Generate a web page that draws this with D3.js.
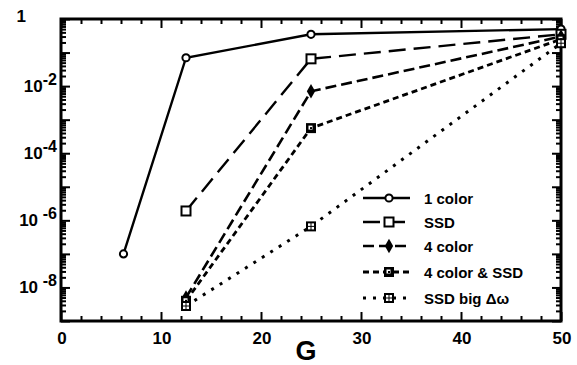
<!DOCTYPE html>
<html>
<head>
<meta charset="utf-8">
<script src="https://cdn.jsdelivr.net/npm/d3@7"></script>
<style>
  body { margin: 0; background: #fff; }
  text { font-family: "Liberation Sans", Arial, sans-serif; font-weight: bold; fill: #000; }
</style>
</head>
<body>
<div id="chart"></div>
<script>
// data
const gOneColor = [6.25, 12.5, 25, 50];
const oneColor = [1e-7, 0.07, 0.35, 0.5];
const gOthers = [12.5, 25, 50];
const ssd = [1.9e-6, 0.065, 0.35];
const fourColor = [5e-9, 7e-3, 0.3];
const fourColorSSD = [4e-9, 5.6e-4, 0.25];
const ssdBig = [2.8e-9, 6.6e-7, 0.19];

const seriesNames = ["1 color", "SSD", "4 color", "4 color & SSD", "SSD big \u0394\u03c9"];
const xMajor = [0, 10, 20, 30, 40, 50];
const yLabelExp = [0, -2, -4, -6, -8];

const width = 577, height = 365;
const margin = { top: 19, right: 16, bottom: 44, left: 61 };

const svg = d3.select("#chart").append("svg")
    .attr("width", width)
    .attr("height", height);

const x = d3.scaleLinear().domain([0, 50]).range([margin.left, width - margin.right]);
const y = d3.scaleLog().domain([1e-9, 1]).range([height - margin.bottom, margin.top]);

const series = [
  { name: seriesNames[0], g: gOneColor, v: oneColor, dash: null, w: 2.4, mark: "circle" },
  { name: seriesNames[1], g: gOthers, v: ssd, dash: "17,8", w: 2.4, mark: "square" },
  { name: seriesNames[2], g: gOthers, v: fourColor, dash: "11,5", w: 2.6, mark: "diamond" },
  { name: seriesNames[3], g: gOthers, v: fourColorSSD, dash: "6,4", w: 2.8, mark: "squareDot" },
  { name: seriesNames[4], g: gOthers, v: ssdBig, dash: "3,7", w: 3, mark: "squarePlus" }
];

// ticks
const minorX = d3.range(0, 51, 2).filter(d => d % 10 !== 0);
const decades = d3.range(-9, 1);
const minorY = [];
decades.forEach(k => { if (k < 0) d3.range(2, 10).forEach(m => minorY.push(m * Math.pow(10, k))); });
const majorY = decades.map(k => Math.pow(10, k));

function tickAxis(axis, tr) {
  const g = svg.append("g").attr("transform", tr).call(axis);
  g.select(".domain").remove();
  g.selectAll(".tick line").attr("stroke", "#000").attr("stroke-width", 2);
  return g;
}
const bottomY = height - margin.bottom, topY = margin.top;
const leftX = margin.left, rightX = width - margin.right;

tickAxis(d3.axisBottom(x).tickValues(xMajor).tickSize(-9).tickFormat(""), `translate(0,${bottomY})`);
tickAxis(d3.axisBottom(x).tickValues(minorX).tickSize(-5).tickFormat(""), `translate(0,${bottomY})`);
tickAxis(d3.axisTop(x).tickValues(xMajor).tickSize(-9).tickFormat(""), `translate(0,${topY})`);
tickAxis(d3.axisTop(x).tickValues(minorX).tickSize(-5).tickFormat(""), `translate(0,${topY})`);
tickAxis(d3.axisLeft(y).tickValues(majorY).tickSize(-9).tickFormat(""), `translate(${leftX},0)`);
tickAxis(d3.axisLeft(y).tickValues(minorY).tickSize(-5).tickFormat(""), `translate(${leftX},0)`);
tickAxis(d3.axisRight(y).tickValues(majorY).tickSize(-9).tickFormat(""), `translate(${rightX},0)`);
tickAxis(d3.axisRight(y).tickValues(minorY).tickSize(-5).tickFormat(""), `translate(${rightX},0)`);

// frame
svg.append("rect")
    .attr("x", leftX).attr("y", topY)
    .attr("width", rightX - leftX).attr("height", bottomY - topY)
    .attr("fill", "none").attr("stroke", "#000").attr("stroke-width", 3);

// x labels
svg.selectAll(".xlab").data(xMajor).enter().append("text")
    .attr("x", d => x(d) + 1).attr("y", bottomY + 23)
    .attr("text-anchor", "middle").attr("font-size", 17)
    .text(d => d);

svg.append("text")
    .attr("x", x(24.5)).attr("y", 360)
    .attr("text-anchor", "middle").attr("font-size", 27)
    .text("G");

// y labels
yLabelExp.forEach(e => {
  const t = svg.append("text")
      .attr("x", 57).attr("y", y(Math.pow(10, e)) + 6)
      .attr("text-anchor", "end").attr("font-size", 17);
  if (e === 0) {
    t.attr("x", 26).attr("y", y(1) + 3).text("1");
  } else {
    t.append("tspan").text(e <= -6 ? "10 " : "10");
    t.append("tspan").attr("dy", -7).attr("font-size", 16).text(e);
  }
});

// lines
const line = d3.line().x(d => x(d[0])).y(d => y(d[1]));
series.forEach(s => {
  svg.append("path")
      .datum(s.g.map((g, i) => [g, s.v[i]]))
      .attr("d", line)
      .attr("fill", "none")
      .attr("stroke", "#000")
      .attr("stroke-width", s.w)
      .attr("stroke-dasharray", s.dash);
});

function drawMarker(g, kind, cx, cy) {
  if (kind === "circle") {
    g.append("circle").attr("cx", cx).attr("cy", cy).attr("r", 3.6)
        .attr("fill", "#fff").attr("stroke", "#000").attr("stroke-width", 2);
  } else if (kind === "square") {
    g.append("rect").attr("x", cx - 4.5).attr("y", cy - 4.5).attr("width", 9).attr("height", 9)
        .attr("fill", "#fff").attr("stroke", "#000").attr("stroke-width", 2);
  } else if (kind === "diamond") {
    g.append("path").attr("d", d3.symbol(d3.symbolDiamond, 60)())
        .attr("transform", `translate(${cx},${cy})`).attr("fill", "#000");
  } else if (kind === "squareDot") {
    g.append("rect").attr("x", cx - 5).attr("y", cy - 5).attr("width", 10).attr("height", 10).attr("fill", "#000");
    g.append("rect").attr("x", cx - 2.5).attr("y", cy - 2.5).attr("width", 4).attr("height", 4).attr("fill", "#fff");
    g.append("rect").attr("x", cx - 1).attr("y", cy - 1).attr("width", 2).attr("height", 2).attr("fill", "#000");
  } else if (kind === "squarePlus") {
    g.append("rect").attr("x", cx - 5).attr("y", cy - 5).attr("width", 10).attr("height", 10).attr("fill", "#000");
    [[-3, -3], [0.5, -3], [-3, 0.5], [0.5, 0.5]].forEach(o => {
      g.append("rect").attr("x", cx + o[0]).attr("y", cy + o[1]).attr("width", 2.5).attr("height", 2.5).attr("fill", "#fff");
    });
  }
}

const marks = svg.append("g");
series.forEach(s => {
  s.g.forEach((g, i) => drawMarker(marks, s.mark, x(g), y(s.v[i])));
});

// legend
const legendY = [198, 222, 246, 272, 298];
const legend = svg.append("g");
series.forEach((s, i) => {
  const ly = legendY[i];
  legend.append("line")
      .attr("x1", 363).attr("x2", 410).attr("y1", ly).attr("y2", ly)
      .attr("stroke", "#000").attr("stroke-width", s.w)
      .attr("stroke-dasharray", s.dash);
  drawMarker(legend, s.mark, 389, ly);
  legend.append("text")
      .attr("x", 424).attr("y", ly + 6)
      .attr("font-size", 15)
      .text(s.name);
});
</script>
</body>
</html>
